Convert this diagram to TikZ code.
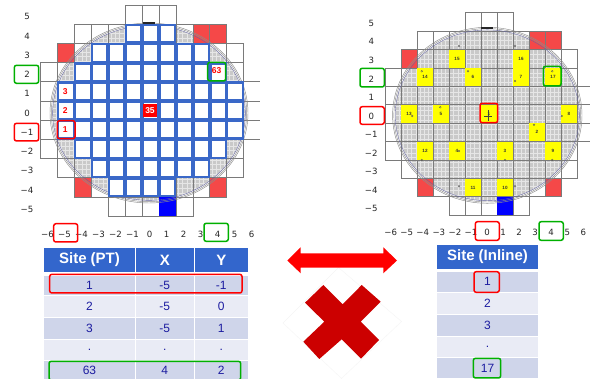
\documentclass[tikz,border=0pt]{standalone}
\usepackage{fontspec}
\setmainfont{Liberation Sans}
\newfontfamily\axisfont{DejaVu Sans}
\usetikzlibrary{calc}
\definecolor{hdr}{HTML}{3366CC}
\definecolor{rowa}{HTML}{CFD5EA}
\definecolor{rowb}{HTML}{E9EBF5}
\definecolor{tabtext}{HTML}{1C1CA0}
\definecolor{cellblue}{HTML}{3A68C8}
\definecolor{redcell}{HTML}{F54848}
\definecolor{hlred}{HTML}{FF0000}
\definecolor{hlgreen}{HTML}{00B000}
\definecolor{gridc}{HTML}{7A7A7A}
\definecolor{waferg}{HTML}{C9C9C9}
\definecolor{waferl}{HTML}{E6E6E6}
\definecolor{crossred}{HTML}{CC0000}
\definecolor{yellowc}{HTML}{FFFF00}
\tikzset{
 gridcell/.style={draw=gridc,line width=0.6pt},
 bluecell/.style={draw=cellblue,fill=white,line width=2.3pt},
 redfill/.style={fill=redcell},
 axislab/.style={font=\axisfont\fontsize{8.6}{10}\selectfont,text=black!85,inner sep=0pt},
 redlab/.style={font=\bfseries\fontsize{8.5}{10}\selectfont,text=hlred,inner sep=0pt},
 whitelab/.style={font=\bfseries\fontsize{8.5}{10}\selectfont,text=white,inner sep=0pt},
 yellowlab/.style={font=\bfseries\fontsize{4.6}{5}\selectfont,text=black!80,inner sep=0pt},
 hlr/.style={draw=hlred,line width=1.5pt,rounded corners=2.2pt},
 hlg/.style={draw=hlgreen,line width=1.5pt,rounded corners=2.2pt},
 headlab/.style={font=\bfseries\fontsize{15}{17}\selectfont,text=white,inner sep=0pt},
 bodylab/.style={font=\fontsize{12}{14}\selectfont,text=tabtext,inner sep=0pt},
 marker/.style={draw=black!65,line width=0.3pt}
}
\newcommand\waferdisc[4]{%
 \begin{scope}
  \clip (#1,#2) ellipse [x radius=#3-2.6, y radius=#4-2.6];
  \fill[waferg] (#1-110,#2-110) rectangle (#1+110,#2+110);
  \foreach \i in {-25,...,25}{
   \draw[waferl,line width=0.5pt] (#1+\i*4.2,#2-110) -- (#1+\i*4.2,#2+110);
   \draw[waferl,line width=0.5pt] (#1-110,#2+\i*4.7) -- (#1+110,#2+\i*4.7);
  }
 \end{scope}}
\newcommand\waferrim[4]{%
 \draw[black!45,line width=0.45pt] (#1,#2) ellipse [x radius=#3, y radius=#4];
 \draw[black!45,line width=0.45pt] (#1,#2) ellipse [x radius=#3-1.3, y radius=#4-1.3];
 \draw[blue!40!black!60,line width=0.35pt] (#1,#2) ellipse [x radius=#3-2.6, y radius=#4-2.6];
 \fill[black!85] (#1-6,#2-#4-0.5) rectangle (#1+6,#2-#4+1.6);}
\newcommand\cellgrid{%
 \foreach \r/\a/\b in {5/-1/1,4/-4/4,3/-5/5,2/-6/5,1/-6/5,0/-6/5,-1/-6/5,-2/-6/5,-3/-5/5,-4/-4/4,-5/-2/2}{
  \foreach \c in {\a,...,\b}{
   \draw[gridcell] (\c-.5,\r-.5) rectangle (\c+.5,\r+.5);
  }
 }
 \foreach \r in {1.5,.5,-.5,-1.5}{\draw[gridcell] (5.5,\r) -- (6.5,\r);}}
\newcommand\redcells{%
 \foreach \c/\r in {3/4,4/4,-5/3,-4/-4,4/-4}{
  \fill[redfill] (\c-.5,\r-.5) rectangle (\c+.5,\r+.5);
  \draw[gridcell] (\c-.5,\r-.5) rectangle (\c+.5,\r+.5);
 }
 \fill[blue] (.5,-5.5) rectangle (1.5,-4.5);}
\newcommand\tcell[7]{%
 \fill[#6] (#2,#3) rectangle (#4,#5);
 \node[bodylab] (#1) at ($(#2,#3)!.5!(#4,#5)$) {#7};}
\newcommand\hcell[6]{%
 \fill[hdr] (#2,#3) rectangle (#4,#5);
 \node[headlab] (#1) at ($(#2,#3)!.5!(#4,#5)$) {#6};}
\begin{document}
\begin{tikzpicture}[x=1pt,y=-1pt]
\useasboundingbox (0,0) rectangle (590,379);
\fill[white] (0,0) rectangle (590,379);
\clip (0,0) rectangle (590,379);
% ---------- left wafer
\waferdisc{149}{113}{99}{90}
\begin{scope}[shift={(150.55pt,-110.6pt)},x=16.9pt,y=19.2pt]
 \cellgrid\redcells
\end{scope}
\waferrim{149}{113}{99}{90}
\begin{scope}[shift={(150.55pt,-110.6pt)},x=16.9pt,y=19.2pt]
 \foreach \r/\a/\b in {4/-1/1,3/-3/3,2/-4/4,1/-5/5,0/-5/5,-1/-5/5,-2/-4/4,-3/-3/3,-4/-2/1}{
  \foreach \c in {\a,...,\b}{
   \draw[bluecell] (\c-.46,\r-.46) rectangle (\c+.46,\r+.46);
  }
 }
\end{scope}
\fill[hlred] (143.3,104) rectangle (156.7,117.3);
\node[whitelab] (s35) at (150,110.7) {35};
\node[redlab] (s63) at (216.7,70.7) {63};
\node[redlab] (s1) at (65.3,130) {1};
\node[redlab] (s2) at (65.3,110.7) {2};
\node[redlab] (s3) at (65.3,91.7) {3};
\foreach \v [count=\i from 0] in {5,4,3,2,1,0,−1,−2,−3,−4,−5}{
 \node[axislab] (ly\i) at (27,16.7+\i*19.25) {\v};
}
\foreach \v [count=\i from 0] in {−6,−5,−4,−3,−2,−1,0,1,2,3,4,5,6}{
 \node[axislab] (lx\i) at (47.5+\i*17,234) {\v};
}
% ---------- right wafer
\waferdisc{487.3}{115.3}{94.7}{88}
\begin{scope}[shift={(489pt,-113.9pt)},x=16pt,y=18.4pt]
 \cellgrid\redcells
 \foreach \t/\c/\r in {15/-2/3,16/2/3,14/-4/2,6/-1/2,7/2/2,17/4/2,13/-5/0,5/-3/0,1/0/0,8/5/0,2/3/-1,12/-4/-2,4/-2/-2,3/1/-2,9/4/-2,11/-1/-4,10/1/-4}{
  \fill[yellowc] (\c-.48,\r-.48) rectangle (\c+.48,\r+.48);
  \node[yellowlab] (y\t) at (\c,\r) {\t};
 }
\end{scope}
\waferrim{487.3}{115.3}{94.7}{88}
\draw[black!75,line width=0.5pt] (484,116.5) -- (492,116.5) (488,110) -- (488,121.5);
\foreach \x/\y in {459/46,515/46,421.7/71.3,468/71.3,515/81,552.3/71.3,412.3/116,440.3/107.3,561.7/116,534/124.7,421.7/160,459/151,505/160,552.3/160,459/186.3,515/186.3}{
 \draw[marker] (\x,\y) circle (0.9);
}
\foreach \v [count=\i from 0] in {5,4,3,2,1,0,−1,−2,−3,−4,−5}{
 \node[axislab] (ry\i) at (371.3,23.3+\i*18.55) {\v};
}
\foreach \v [count=\i from 0] in {−6,−5,−4,−3,−2,−1,0,1,2,3,4,5,6}{
 \node[axislab] (rx\i) at (390.7+\i*16.05,232) {\v};
}
% ---------- left table
\hcell{ha}{44}{248}{135}{272}{Site (PT)}
\hcell{hb}{135.6}{248}{194}{272}{X}
\hcell{hc}{194.6}{248}{248}{272}{Y}
\foreach \n/\ya/\yb/\col/\s/\p/\q in {1/276/295.5/rowa/1/-5/-1,2/296.3/317/rowb/2/-5/0,3/318/339/rowa/3/-5/1,4/340/360/rowb/./././,5/361/379/rowa/63/4/2}{
 \tcell{ta\n}{44}{\ya}{135}{\yb}{\col}{\s}
 \tcell{tb\n}{135.6}{\ya}{194}{\yb}{\col}{\p}
 \tcell{tc\n}{194.6}{\ya}{248}{\yb}{\col}{\q}
}
% ---------- right table
\hcell{hi}{437}{245}{538}{269}{Site (Inline)}
\foreach \n/\ya/\yb/\col/\s in {1/271.7/291.7/rowa/1,2/292.7/314/rowb/2,3/315/335.7/rowa/3,4/336.7/357/rowb/.,5/358/378/rowa/17}{
 \tcell{ti\n}{437}{\ya}{538}{\yb}{\col}{\s}
}
% ---------- cross on a faint diamond
\draw[black!4,line width=0.4pt,fill=white] (338.5,267.5) -- (283,323) -- (341.5,378.5) -- (401.5,321.5) -- cycle;
\fill[crossred] (323.3,285) -- (342.7,304.3) -- (361.7,285) -- (380.7,301.7) -- (360.7,321.7) -- (379,340) -- (361,358.7) -- (341.7,339.3) -- (319.3,359) -- (303.3,341.7) -- (324.3,321.7) -- (305,302.7) -- cycle;
% ---------- double arrow
\fill[hlred] (287.3,260.5) -- (300.7,247.3) -- (300.7,253.3) -- (383.3,253.3) -- (383.3,247.3) -- (397,260.5) -- (383.3,273.3) -- (383.3,267.7) -- (300.7,267.7) -- (300.7,273.3) -- cycle;
% ---------- highlights
\foreach \a/\b/\c/\d in {14.3/65.3/38.7/83.3,207.7/62.3/225.7/81,204/223.3/228.3/241.3,360/68.3/384.3/87,543.3/66.3/561/86,539/221.7/563.3/240.3,49/361.3/240.7/380,473.3/358.3/500.7/378}{
 \draw[hlg] (\a,\b) rectangle (\c,\d);
}
\foreach \a/\b/\c/\d in {14.3/123.3/38.7/141,57.3/120.7/75/138.7,53.7/223.7/77.7/242,360/106.7/384.3/124.3,480/103.3/497.7/122.7,475.3/221.7/499.3/240.3,49.7/274.3/242/293,474/271.7/499.3/292.3}{
 \draw[hlr] (\a,\b) rectangle (\c,\d);
}
\end{tikzpicture}
\end{document}
